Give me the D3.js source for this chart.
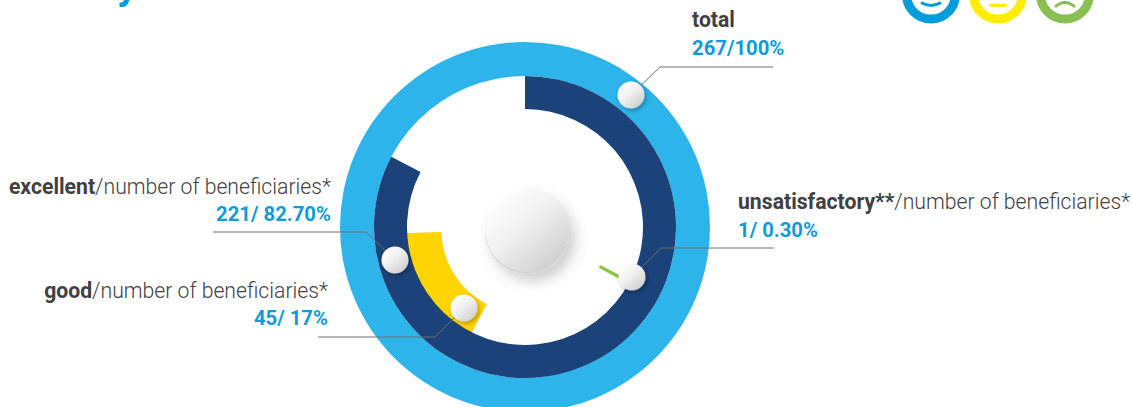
<!DOCTYPE html>
<html><head><meta charset="utf-8">
<script src="https://cdn.jsdelivr.net/npm/d3@7"></script>
<style>
html,body{margin:0;padding:0;background:#fff;overflow:hidden}
text{font-family:Roboto,sans-serif}
</style></head><body><svg id="c" width="1132" height="407"></svg>
<script>
const categories=["total","excellent","good","unsatisfactory**"];
const counts=[267,221,45,1];
const percents=[100,82.7,17,0.3];
const valueLabels=["267/100%","221/ 82.70%","45/ 17%","1/ 0.30%"];
const suffix=["","/number of beneficiaries*","/number of beneficiaries*","/number of beneficiaries*"];
const startPercents=[0,0,57.6,32.6];
const colors=["#2db4ea","#1b4279","#ffd400","#8bc34a"];
const faces=["#009ddc","#ffed00","#8abf54"];

const svg=d3.select("#c");
const defs=svg.append("defs");
const lg=defs.append("linearGradient").attr("id","knob").attr("x1","15%").attr("y1","10%").attr("x2","85%").attr("y2","90%");
lg.append("stop").attr("offset","0%").attr("stop-color","#ffffff");
lg.append("stop").attr("offset","45%").attr("stop-color","#f0f0f0");
lg.append("stop").attr("offset","100%").attr("stop-color","#cfcfcf");
const f1=defs.append("filter").attr("id","sh").attr("x","-50%").attr("y","-50%").attr("width","200%").attr("height","200%");
f1.append("feDropShadow").attr("dx",1.5).attr("dy",2).attr("stdDeviation",2).attr("flood-color","#000").attr("flood-opacity",.3);
const f2=defs.append("filter").attr("id","sh2").attr("x","-50%").attr("y","-50%").attr("width","200%").attr("height","200%");
f2.append("feDropShadow").attr("dx",6).attr("dy",7).attr("stdDeviation",7).attr("flood-color","#000").attr("flood-opacity",.2);

const cx=525,cy=227;
const angle=d3.scaleLinear().domain([0,100]).range([0,2*Math.PI]);
const rings=[[151,185],[118,151],[83.5,125],[85,118]];
const ringDy=[0,0,3,0];
const order=[0,2,3,1];
const g=svg.append("g").attr("transform",`translate(${cx},${cy})`);
const arc=d3.arc();
g.selectAll("path.ring").data(order).join("path").attr("class","ring")
 .attr("fill",i=>colors[i]).attr("stroke",i=>i===3?colors[i]:"none").attr("stroke-width",1.5)
 .attr("transform",i=>`translate(0,${ringDy[i]})`)
 .attr("d",i=>arc({innerRadius:rings[i][0],outerRadius:rings[i][1],startAngle:angle(startPercents[i]),endAngle:angle(startPercents[i]+percents[i])}));

const knobs=[[631,95],[395,260],[464,308],[632,277]];
const leaders=[[[660,67],[773,67]],[[366,232],[213,232]],[[435,337],[318,337]],[[661,248],[774,248]]];
const line=d3.line();
svg.selectAll("path.lead").data(knobs).join("path").attr("class","lead")
 .attr("fill","none").attr("stroke","#6d6e71").attr("stroke-width",1)
 .attr("d",(k,i)=>line([k,...leaders[i]]));
svg.selectAll("circle.knob").data(knobs).join("circle").attr("class","knob")
 .attr("cx",d=>d[0]).attr("cy",d=>d[1]).attr("r",13.5)
 .attr("fill","url(#knob)").attr("filter","url(#sh)");
svg.append("circle").attr("cx",527).attr("cy",232).attr("r",42).attr("fill","#d4d4d4").attr("filter","url(#sh2)");
svg.append("circle").attr("cx",527).attr("cy",230).attr("r",42).attr("fill","url(#knob)");

const pos=[[692,27,"start",692,55],[331,194,"end",331,221],[328,298,"end",328,325],[738,209,"start",738,237]];
categories.forEach((c,i)=>{
  const t=svg.append("text").attr("x",pos[i][0]).attr("y",pos[i][1]).attr("text-anchor",pos[i][2]).attr("font-size",21.2).attr("fill","#414042");
  t.append("tspan").attr("font-weight",700).text(c);
  if(suffix[i]) t.append("tspan").attr("font-weight",300).text(suffix[i]);
  svg.append("text").attr("x",pos[i][3]).attr("y",pos[i][4]).attr("text-anchor",pos[i][2]).attr("font-size",20.3).attr("font-weight",700).attr("fill","#0f9bd7").text(valueLabels[i]);
});

const fx=[931,998,1065];
const fg=svg.selectAll("g.face").data(faces).join("g").attr("class","face").attr("transform",(d,i)=>`translate(${fx[i]},-5.5)`);
fg.append("circle").attr("r",24.5).attr("fill","none").attr("stroke",d=>d).attr("stroke-width",9);
const mouths=["M-10,8Q0,14 10,8","M-8.5,10.8H8.5","M-10,12.5Q0,3.5 10,12.5"];
fg.append("path").attr("d",(d,i)=>mouths[i]).attr("fill","none").attr("stroke",d=>d).attr("stroke-width",3);
svg.append("text").attr("x",117).attr("y",-1).attr("font-size",40).attr("font-weight",700).attr("fill","#009ddc").text("y");
</script></body></html>
